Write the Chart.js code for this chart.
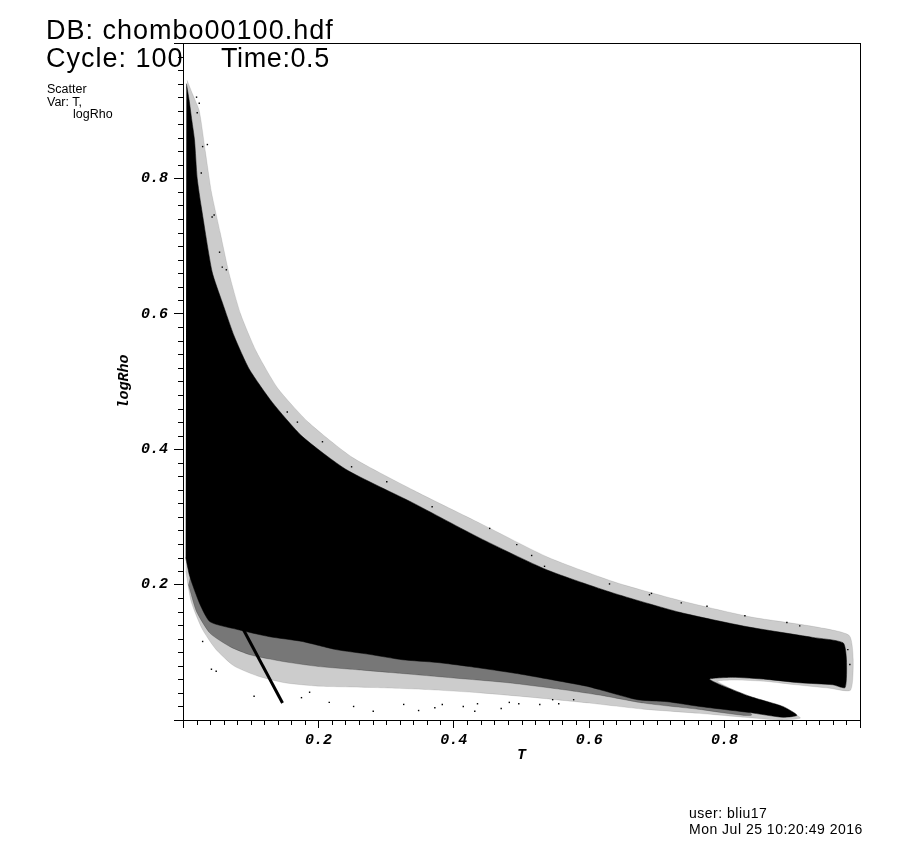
<!DOCTYPE html>
<html>
<head>
<meta charset="utf-8">
<title>chombo00100.hdf - Scatter T / logRho</title>
<script src="https://cdn.jsdelivr.net/npm/chart.js@4.4.1/dist/chart.umd.min.js"></script>
<style>
  body { margin: 0; background: #fff; }
  #wrap { position: relative; width: 920px; height: 848px; overflow: hidden; }
  #plot { position: absolute; left: 0; top: 0; }
  .txt { position: absolute; font-family: 'Liberation Sans', Arial, sans-serif; color: #000; white-space: nowrap; }
  .big { font-size: 27px; line-height: 27px; letter-spacing: 1px; }
  .small { font-size: 12.5px; line-height: 12.5px; }
  .foot { font-size: 14px; line-height: 14px; letter-spacing: 0.5px; }
</style>
</head>
<body>
<div id="wrap">
  <canvas id="plot" width="920" height="848"></canvas>
  <div class="txt big" style="left:46px;top:17px">DB: chombo00100.hdf</div>
  <div class="txt big" style="left:46px;top:45px">Cycle: 100</div>
  <div class="txt big" style="left:221px;top:45px;letter-spacing:0.6px">Time:0.5</div>
  <div class="txt small" style="left:47px;top:83px">Scatter</div>
  <div class="txt small" style="left:47px;top:96px">Var: T,</div>
  <div class="txt small" style="left:73px;top:108px">logRho</div>
  <div class="txt foot" style="left:689px;top:806px">user: bliu17</div>
  <div class="txt foot" style="left:689px;top:822px">Mon Jul 25 10:20:49 2016</div>
</div>
<script>
// [T, logRho] pairs

// solid part of the cloud, upper edge from the spike to the right tip
const coreUpper = [
  [0.005, 0.940], [0.009, 0.916], [0.013, 0.886], [0.017, 0.857], [0.021, 0.800],
  [0.027, 0.758], [0.043, 0.662], [0.058, 0.617], [0.076, 0.566], [0.098, 0.518],
  [0.132, 0.469], [0.176, 0.419], [0.241, 0.370], [0.339, 0.321], [0.438, 0.269],
  [0.537, 0.222], [0.634, 0.188], [0.734, 0.159], [0.832, 0.138], [0.930, 0.122],
  [0.975, 0.114], [0.980, 0.089]
];
// solid part, lower edge from the right tip back to the left axis
const coreLower = [
  [0.978, 0.048], [0.960, 0.052], [0.911, 0.055], [0.862, 0.060], [0.812, 0.063],
  [0.778, 0.060], [0.837, 0.035], [0.886, 0.020], [0.907, 0.007], [0.886, 0.004],
  [0.837, 0.011], [0.763, 0.020], [0.715, 0.027], [0.671, 0.030], [0.615, 0.045],
  [0.596, 0.050], [0.497, 0.068], [0.423, 0.079], [0.375, 0.085], [0.324, 0.089],
  [0.275, 0.097], [0.226, 0.104], [0.176, 0.116], [0.128, 0.123], [0.079, 0.134],
  [0.040, 0.145], [0.025, 0.171], [0.010, 0.212], [0.004, 0.240]
];
// dense speckle just under the solid part (left to right), closed through the cloud
const speckleDense = [
  [0.008, 0.200], [0.020, 0.160], [0.040, 0.128], [0.070, 0.108], [0.100, 0.096],
  [0.150, 0.086], [0.200, 0.079], [0.260, 0.074], [0.320, 0.069], [0.400, 0.062],
  [0.480, 0.055], [0.560, 0.045], [0.620, 0.036], [0.680, 0.025], [0.760, 0.016],
  [0.840, 0.008], [0.700, 0.100], [0.300, 0.150], [0.030, 0.300]
];
// outer limit of the thin speckle fringe
const haloUpper = [
  [0.006, 0.945], [0.014, 0.925], [0.024, 0.900], [0.033, 0.840], [0.042, 0.780],
  [0.055, 0.720], [0.068, 0.660], [0.085, 0.600], [0.108, 0.545], [0.140, 0.490],
  [0.185, 0.440], [0.250, 0.388], [0.345, 0.337], [0.440, 0.290], [0.540, 0.240],
  [0.640, 0.203], [0.740, 0.175], [0.840, 0.152], [0.932, 0.138], [0.984, 0.125],
  [0.990, 0.090]
];
const haloLower = [
  [0.986, 0.044], [0.955, 0.047], [0.905, 0.052], [0.862, 0.057], [0.815, 0.059],
  [0.790, 0.057], [0.845, 0.030], [0.890, 0.015], [0.912, 0.003], [0.880, 0.000],
  [0.830, 0.004], [0.760, 0.010], [0.680, 0.016], [0.600, 0.025], [0.520, 0.033],
  [0.440, 0.040], [0.360, 0.045], [0.280, 0.048], [0.200, 0.050], [0.150, 0.055],
  [0.110, 0.065], [0.075, 0.080], [0.048, 0.105], [0.028, 0.135], [0.012, 0.175],
  [0.004, 0.220]
];
// the thin diagonal streak under the cloud
const streak = [[0.088, 0.136], [0.147, 0.025]];
// stray points outside the cloud
const strayPoints = [
  [0.020, 0.920], [0.024, 0.911], [0.021, 0.897], [0.029, 0.847], [0.036, 0.850],
  [0.027, 0.808], [0.043, 0.743], [0.046, 0.746], [0.054, 0.691], [0.058, 0.669],
  [0.064, 0.665], [0.154, 0.455], [0.169, 0.440], [0.206, 0.411], [0.249, 0.374],
  [0.301, 0.352], [0.368, 0.315], [0.453, 0.283], [0.493, 0.259], [0.515, 0.243],
  [0.534, 0.227], [0.630, 0.201], [0.689, 0.185], [0.692, 0.187], [0.736, 0.173],
  [0.774, 0.168], [0.830, 0.154], [0.892, 0.144], [0.911, 0.139], [0.982, 0.104],
  [0.985, 0.082], [0.029, 0.116], [0.042, 0.075], [0.049, 0.072], [0.105, 0.035],
  [0.175, 0.033], [0.187, 0.041], [0.216, 0.026], [0.252, 0.020], [0.281, 0.013],
  [0.326, 0.023], [0.348, 0.014], [0.372, 0.018], [0.383, 0.023], [0.414, 0.020],
  [0.431, 0.013], [0.435, 0.024], [0.470, 0.017], [0.482, 0.026], [0.496, 0.024],
  [0.527, 0.023], [0.546, 0.030], [0.555, 0.024], [0.577, 0.030]
];
const majorTicks = [0.2, 0.4, 0.6, 0.8];
const tickLabels = ['0.2', '0.4', '0.6', '0.8'];
const minorStep = 0.02;

const toXY = pts => pts.map(p => ({ x: p[0], y: p[1] }));

function tickText(value) {
  const i = majorTicks.findIndex(t => Math.abs(t - value) < 1e-6);
  return i < 0 ? '' : tickLabels[i];
}

const labelFont = { family: "'Liberation Mono', 'DejaVu Sans Mono', monospace", size: 15, weight: 'bold', style: 'italic' };

// filled region drawn from a closed outline
function area(label, pts, color, order) {
  return {
    label,
    data: toXY(pts),
    borderColor: color,
    borderWidth: 0.5,
    backgroundColor: color,
    fill: 'shape',
    pointRadius: 0,
    tension: 0.2,
    order
  };
}

// minor ticks along both axes plus the box around the plot
const frameAndMinorTicks = {
  id: 'frameAndMinorTicks',
  afterDraw(chart) {
    const { ctx, chartArea: a, scales: { x, y } } = chart;
    ctx.save();
    ctx.strokeStyle = '#000';
    ctx.lineWidth = 1;
    ctx.beginPath();
    for (let v = minorStep; v < 1; v += minorStep) {
      if (Math.abs(v / 0.2 - Math.round(v / 0.2)) < 1e-6) continue;
      const px = Math.round(x.getPixelForValue(v)) + 0.5;
      ctx.moveTo(px, a.bottom);
      ctx.lineTo(px, a.bottom + 5);
      const py = Math.round(y.getPixelForValue(v)) + 0.5;
      ctx.moveTo(a.left - 5, py);
      ctx.lineTo(a.left, py);
    }
    ctx.stroke();
    ctx.strokeRect(Math.round(a.left) + 0.5, Math.round(a.top) + 0.5,
      Math.round(a.right - a.left), Math.round(a.bottom - a.top));
    ctx.restore();
  }
};

new Chart(document.getElementById('plot'), {
  type: 'line',
  data: {
    datasets: [
      {
        label: 'stray',
        data: toXY(strayPoints),
        showLine: false,
        pointStyle: 'rect',
        pointRadius: 1,
        pointBackgroundColor: '#000',
        pointBorderWidth: 0,
        order: 0
      },
      {
        label: 'streak',
        data: toXY(streak),
        borderColor: '#000',
        borderWidth: 3,
        pointRadius: 0,
        order: 1
      },
      area('core', coreUpper.concat(coreLower), '#000', 2),
      area('dense speckle', speckleDense, 'rgba(0,0,0,0.42)', 3),
      area('halo', haloUpper.concat(haloLower), 'rgba(0,0,0,0.2)', 4)
    ]
  },
  options: {
    responsive: false,
    animation: false,
    layout: { padding: { left: 115, top: 43, right: 60, bottom: 84 } },
    plugins: {
      legend: { display: false },
      tooltip: { enabled: false }
    },
    scales: {
      x: {
        type: 'linear',
        min: 0,
        max: 1,
        afterFit(scale) { scale.height = 44; },
        border: { color: '#000', width: 1 },
        grid: { drawOnChartArea: false, drawTicks: true, tickLength: 8, tickColor: '#000' },
        ticks: {
          stepSize: 0.2,
          color: '#000',
          padding: 3,
          maxRotation: 0,
          font: labelFont,
          callback: tickText
        },
        title: { display: true, text: 'T', color: '#000', font: labelFont, padding: { top: 0, bottom: 0 } }
      },
      y: {
        type: 'linear',
        min: 0,
        max: 1,
        afterFit(scale) { scale.width = 68; },
        border: { color: '#000', width: 1 },
        grid: { drawOnChartArea: false, drawTicks: true, tickLength: 9, tickColor: '#000' },
        ticks: {
          stepSize: 0.2,
          color: '#000',
          padding: 6,
          font: labelFont,
          callback: tickText
        },
        title: { display: true, text: 'logRho', color: '#000', font: labelFont, padding: { top: 0, bottom: 0 } }
      }
    }
  },
  plugins: [frameAndMinorTicks]
});
</script>
</body>
</html>
